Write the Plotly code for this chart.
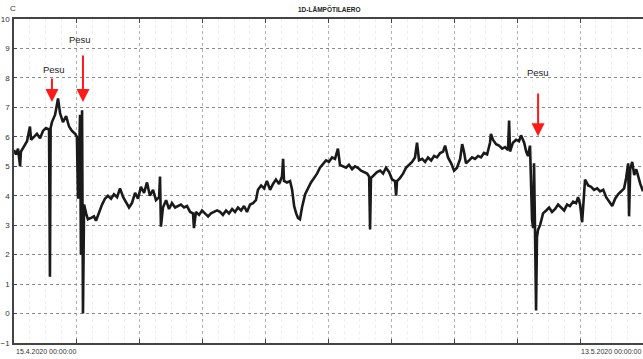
import plotly.graph_objects as go

# time in days since 15.4.2020 00:00:00
days = [0.00, 0.09, 0.18, 0.27, 0.31, 0.45, 0.58, 0.71, 0.76, 0.89, 1.02, 1.16, 1.29, 1.42, 1.56, 1.60, 1.63, 1.69,
        1.83, 1.96, 2.05, 2.18, 2.32, 2.45, 2.58, 2.72, 2.80, 2.85, 2.89, 2.94, 2.98, 3.03, 3.07, 3.12, 3.21, 3.29,
        3.43, 3.56, 3.65, 3.78, 3.92, 4.05, 4.18, 4.32, 4.45, 4.59, 4.72, 4.86, 4.99, 5.12, 5.25, 5.39, 5.52, 5.65,
        5.79, 5.92, 6.05, 6.19, 6.32, 6.46, 6.50, 6.54, 6.63, 6.77, 6.90, 7.03, 7.17, 7.30, 7.43, 7.57, 7.70, 7.84,
        7.97, 8.01, 8.10, 8.24, 8.37, 8.50, 8.64, 8.77, 8.90, 9.04, 9.17, 9.30, 9.44, 9.57, 9.71, 9.84, 9.97, 10.11,
        10.24, 10.37, 10.51, 10.64, 10.77, 10.86, 11.00, 11.13, 11.26, 11.40, 11.53, 11.66, 11.80, 11.93, 11.98,
        12.02, 12.15, 12.29, 12.38, 12.47, 12.56, 12.64, 12.73, 12.82, 12.96, 13.09, 13.22, 13.36, 13.49, 13.62,
        13.76, 13.89, 14.02, 14.16, 14.29, 14.42, 14.51, 14.65, 14.78, 14.91, 15.05, 15.18, 15.31, 15.45, 15.58,
        15.72, 15.81, 15.85, 15.89, 16.03, 16.16, 16.30, 16.43, 16.56, 16.70, 16.83, 16.96, 17.01, 17.05, 17.18,
        17.32, 17.45, 17.59, 17.72, 17.85, 17.94, 18.03, 18.17, 18.30, 18.43, 18.57, 18.70, 18.83, 18.97, 19.10,
        19.19, 19.32, 19.46, 19.59, 19.72, 19.86, 19.95, 20.03, 20.12, 20.26, 20.39, 20.52, 20.66, 20.79, 20.92,
        21.06, 21.19, 21.23, 21.32, 21.46, 21.59, 21.73, 21.86, 21.99, 22.04, 22.08, 22.21, 22.35, 22.48, 22.57,
        22.71, 22.80, 22.88, 22.97, 23.02, 23.06, 23.11, 23.15, 23.19, 23.24, 23.28, 23.33, 23.42, 23.55, 23.69,
        23.82, 23.95, 24.09, 24.22, 24.35, 24.49, 24.62, 24.75, 24.89, 25.02, 25.11, 25.20, 25.29, 25.33, 25.42,
        25.56, 25.69, 25.82, 25.96, 26.09, 26.23, 26.36, 26.49, 26.63, 26.76, 26.89, 27.03, 27.16, 27.25, 27.34,
        27.38, 27.43, 27.52, 27.61, 27.70, 27.79, 27.88, 28.00]

temp_diff = [5.55, 5.4, 5.6, 5.0, 5.5, 5.7, 5.85, 6.35, 5.9, 6.0, 6.1, 5.95, 6.2, 6.3, 6.25, 1.25, 6.3, 6.5,
             6.75, 7.3, 6.8, 6.5, 6.7, 6.35, 6.2, 6.1, 6.0, 3.9, 5.2, 6.75, 2.0, 6.9, 0.0, 3.7, 3.4, 3.2,
             3.25, 3.3, 3.15, 3.45, 3.7, 3.9, 4.0, 3.9, 4.05, 3.95, 4.25, 3.95, 3.75, 3.6, 3.75, 4.1, 3.9, 4.3,
             4.1, 4.45, 4.0, 4.2, 3.85, 3.95, 4.65, 2.95, 3.6, 3.85, 3.55, 3.75, 3.6, 3.65, 3.7, 3.6, 3.65, 3.45,
             3.4, 2.9, 3.45, 3.35, 3.5, 3.4, 3.3, 3.4, 3.45, 3.5, 3.45, 3.35, 3.5, 3.4, 3.55, 3.45, 3.6, 3.5,
             3.65, 3.45, 3.7, 3.75, 3.85, 4.2, 4.35, 4.25, 4.5, 4.2, 4.4, 4.55, 4.4, 4.65, 5.25,
             4.5, 4.45, 4.5, 4.2, 3.65, 3.4, 3.25, 3.2, 3.6, 4.05, 4.25, 4.45, 4.6, 4.75, 4.95,
             5.1, 5.2, 5.15, 5.3, 5.25, 5.6, 5.05, 5.0, 4.95, 5.05, 4.9, 5.0, 4.95, 4.85, 4.8,
             4.75, 4.65, 2.85, 4.6, 4.7, 4.8, 4.85, 4.75, 4.95, 4.8, 4.55, 4.5, 4.0, 4.5, 4.6,
             4.75, 4.95, 5.05, 5.15, 5.3, 5.8, 5.2, 5.25, 5.15, 5.3, 5.2, 5.35, 5.3, 5.45, 5.5,
             5.7, 5.3, 5.1, 4.85, 4.95, 5.25, 5.75, 5.5, 5.1, 5.2, 5.3, 5.25, 5.35, 5.3, 5.45,
             5.4, 5.8, 6.1, 5.9, 5.75, 5.7, 5.6, 5.65, 5.55, 6.55, 5.5, 5.8, 5.9, 5.85, 6.05,
             5.8, 5.5, 5.35, 5.7, 4.3, 3.2, 2.9, 5.1, 3.0, 0.1, 2.6, 2.85, 3.0, 3.4, 3.5,
             3.6, 3.45, 3.55, 3.7, 3.6, 3.5, 3.7, 3.65, 3.8, 3.75, 3.95, 3.7, 3.1, 3.6, 4.55,
             4.35, 4.3, 4.2, 4.25, 4.15, 4.2, 3.95, 3.8, 3.65, 3.9, 4.05, 4.15, 4.25, 4.6, 5.1,
             3.3, 4.9, 5.15, 4.7, 4.9, 4.6, 4.4, 4.15]

# "Pesu" (cleaning) events: arrow tip x, tip y, tail y, label position
pesu_x = [1.69, 3.07, 23.33]
pesu_tip_y = [7.18, 7.18, 6.02]
pesu_tail_y = [8.03, 8.81, 7.52]
pesu_label_x = [1.78, 2.94, 23.33]
pesu_label_y = [8.3, 9.32, 8.2]

start_label = "15.4.2020 00:00:00"
end_label = "13.5.2020 00:00:00"
title = "1D-LÄMPÖTILAERO"
unit = "C"

font = "Liberation Sans, Arial, sans-serif"

fig = go.Figure()
fig.add_trace(go.Scatter(x=days, y=temp_diff, mode="lines",
                         line=dict(color="#1a1a1a", width=2.6), showlegend=False))

for i in range(len(pesu_x)):
    fig.add_annotation(x=pesu_x[i], y=pesu_tip_y[i], ax=pesu_x[i], ay=pesu_tail_y[i],
                       xref="x", yref="y", axref="x", ayref="y", text="",
                       showarrow=True, arrowhead=2, arrowsize=1.3, arrowwidth=2,
                       arrowcolor="#ff1a1a")
    fig.add_annotation(x=pesu_label_x[i], y=pesu_label_y[i], xref="x", yref="y",
                       text="Pesu", showarrow=False,
                       font=dict(family=font, size=9.5, color="#222"))

fig.add_annotation(x=0, y=0, xref="paper", yref="paper", yshift=-3, xanchor="left", yanchor="top",
                   text=start_label, showarrow=False, font=dict(family=font, size=7, color="#333"))
fig.add_annotation(x=1, y=0, xref="paper", yref="paper", yshift=-3, xanchor="right", yanchor="top",
                   text=end_label, showarrow=False, font=dict(family=font, size=7, color="#333"))
fig.add_annotation(x=0.5, y=1, xref="paper", yref="paper", yshift=4, xanchor="center", yanchor="bottom",
                   text="<b>" + title + "</b>", showarrow=False, font=dict(family=font, size=6.5, color="#222"))
fig.add_annotation(x=0, y=1, xref="paper", yref="paper", xshift=-6, yshift=4, xanchor="left", yanchor="bottom",
                   text=unit, showarrow=False, font=dict(family=font, size=8, color="#333"))

fig.update_layout(
    width=643, height=359,
    margin=dict(l=14, r=0, t=19, b=16),
    paper_bgcolor="white", plot_bgcolor="white",
    template="none",
    xaxis=dict(range=[0, 28], tick0=0, dtick=2.8, showticklabels=False,
               showgrid=True, gridcolor="#b0b0b0", griddash="dot", gridwidth=1,
               minor=dict(dtick=0.7, showgrid=True, gridcolor="#eeeeee", griddash="dot", ticks=""),
               showline=True, linecolor="#444", linewidth=1.5, mirror="ticks",
               ticks="inside", ticklen=4, tickcolor="#444", zeroline=False, automargin=False),
    yaxis=dict(range=[-1, 10], tick0=-1, dtick=1,
               tickfont=dict(family=font, size=8, color="#333"), ticklabelstandoff=1,
               showgrid=True, gridcolor="#8a8a8a", griddash="dot", gridwidth=1,
               showline=True, linecolor="#444", linewidth=1.5, mirror=True,
               ticks="inside", ticklen=3, tickcolor="#444", zeroline=False, automargin=False),
)

fig.write_html("out.html", config={"responsive": False, "displayModeBar": False},
               post_script="document.body.style.margin='0';document.body.style.overflow='hidden';")
